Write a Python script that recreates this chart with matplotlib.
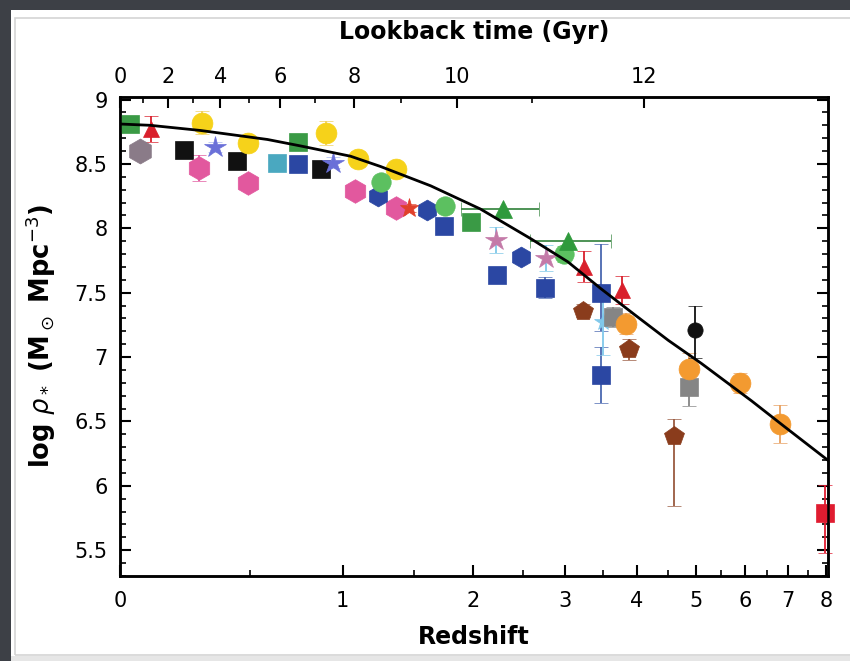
import numpy as np
import matplotlib.pyplot as plt
from matplotlib.patches import Rectangle
from matplotlib.ticker import FixedLocator, MultipleLocator

plt.rcParams['font.family'] = ['Liberation Sans Narrow', 'DejaVu Sans']
plt.rcParams['mathtext.fontset'] = 'dejavusans'

# Stellar mass density measurements: redshift, log rho_*, symmetric y errors
green_sq_z = [0.03, 0.74, 1.98]
green_sq_v = [8.81, 8.67, 8.05]
green_sq_e = [0.04, 0.04, 0.05]

red_tri_z = [0.10, 3.24, 3.77]
red_tri_v = [8.77, 7.70, 7.52]
red_tri_e = [0.10, 0.12, 0.11]

grey_hex_z = [0.065]
grey_hex_v = [8.60]
grey_hex_e = [0.04]

black_sq_z = [0.22, 0.44, 0.87]
black_sq_v = [8.61, 8.52, 8.46]
black_sq_e = [0.03, 0.03, 0.03]

yellow_z = [0.29, 0.49, 0.90, 1.10, 1.36]
yellow_v = [8.82, 8.66, 8.74, 8.54, 8.46]
yellow_e = [0.09, 0.06, 0.09, 0.06, 0.05]

pink_hex_z = [0.28, 0.49, 1.08, 1.36]
pink_hex_v = [8.47, 8.35, 8.29, 8.16]
pink_hex_e = [0.10, 0.04, 0.04, 0.04]

violet_star_z = [0.345, 0.94]
violet_star_v = [8.63, 8.51]
violet_star_e = [0.04, 0.04]

teal_sq_z = [0.63]
teal_sq_v = [8.51]
teal_sq_e = [0.03]

blue_sq_z = [0.74, 1.74, 2.23, 2.75, 3.47, 3.47]
blue_sq_v = [8.50, 8.02, 7.64, 7.54, 7.50, 6.86]
blue_sq_lo = [0.03, 0.04, 0.06, 0.08, 0.30, 0.22]
blue_sq_hi = [0.03, 0.04, 0.06, 0.08, 0.38, 0.22]

blue_hex_z = [1.23, 1.60, 2.48]
blue_hex_v = [8.25, 8.14, 7.78]
blue_hex_e = [0.03, 0.03, 0.04]

lgreen_z = [1.25, 1.75, 2.98]
lgreen_v = [8.36, 8.17, 7.80]
lgreen_e = [0.04, 0.05, 0.06]

green_tri_z = [2.29, 3.03]
green_tri_v = [8.15, 7.90]
green_tri_xlo = [0.40, 0.45]
green_tri_xhi = [0.39, 0.58]

mauve_star_z = [2.22, 2.76]
mauve_star_v = [7.91, 7.77]
mauve_star_e = [0.10, 0.10]

red_star_z = [1.46]
red_star_v = [8.16]
red_star_e = [0.03]

cyan_z = [3.50]
cyan_v = [7.27]
cyan_e = [0.25]

brown_z = [3.23, 3.88, 4.60]
brown_v = [7.36, 7.06, 6.39]
brown_lo = [0.05, 0.08, 0.55]
brown_hi = [0.05, 0.08, 0.13]

grey_sq_z = [3.64, 4.88]
grey_sq_v = [7.31, 6.77]
grey_sq_e = [0.08, 0.15]

orange_z = [3.83, 4.88, 5.88, 6.79]
orange_v = [7.26, 6.91, 6.80, 6.48]
orange_e = [0.08, 0.12, 0.08, 0.15]

black_c_z = [4.98]
black_c_v = [7.21]
black_c_lo = [0.22]
black_c_hi = [0.19]

red_sq_z = [7.97]
red_sq_v = [5.79]
red_sq_lo = [0.31]
red_sq_hi = [0.22]

# Model fit to the mass density
curve_z = [0.0, 0.098, 0.284, 0.582, 0.753, 1.049, 1.25, 1.63, 2.07, 2.59,
           3.03, 3.47, 3.96, 4.51, 5.11, 6.14, 6.91, 8.05]
curve_v = [8.81, 8.80, 8.76, 8.69, 8.64, 8.56, 8.48, 8.33, 8.15, 7.92,
           7.74, 7.53, 7.33, 7.13, 6.95, 6.66, 6.46, 6.20]


def lg(z):
    return np.log10(1 + np.asarray(z, dtype=float))


fig = plt.figure(figsize=(8.5, 6.61), dpi=100)
fig.patch.set_facecolor('#3d4046')
fig.patches.append(Rectangle((11 / 850, 0), 1, 1 - 10 / 661, transform=fig.transFigure,
                             facecolor='white', edgecolor='none', zorder=-3))
fig.patches.append(Rectangle((15 / 850, 6 / 661), 1, 1 - 24 / 661, transform=fig.transFigure,
                             facecolor='none', edgecolor='#d4d4d4', lw=1.2, zorder=-2))
fig.patches.append(Rectangle((11 / 850, 0), 1, 5 / 661, transform=fig.transFigure,
                             facecolor='#e6e6e6', edgecolor='none', zorder=-2))

ax = fig.add_axes([0.1412, 0.1286, 0.833, 0.7247])
xmax = lg(8.06)
ax.set_xlim(0, xmax)
ax.set_ylim(5.3, 9.02)


def pts(z, v, marker, color, ms, yerr=None, xerr=None, ecolor=None, clip=True):
    x = lg(z)
    xe = None
    if xerr is not None:
        lo, hi = xerr
        xe = [x - lg(np.asarray(z) - np.asarray(lo)), lg(np.asarray(z) + np.asarray(hi)) - x]
    cont = ax.errorbar(x, v, yerr=yerr, xerr=xe, fmt=marker, color=color, ms=ms,
                       mec=color, mew=0.5, ecolor=ecolor or color, elinewidth=1.3,
                       capsize=5, capthick=1.3, zorder=3)
    if not clip:
        for art in cont.get_children():
            art.set_clip_on(False)


pts(grey_hex_z, grey_hex_v, 'h', '#8a7b88', 18, grey_hex_e)
pts(green_sq_z, green_sq_v, 's', '#3a9a45', 13, green_sq_e)
pts(red_tri_z, red_tri_v, '^', '#d9202c', 11, red_tri_e)
pts(black_sq_z, black_sq_v, 's', '#111111', 13, black_sq_e)
pts(pink_hex_z, pink_hex_v, 'h', '#e2589e', 17, pink_hex_e)
pts(yellow_z, yellow_v, 'o', '#f6d21a', 15, yellow_e, ecolor='#f0d060')
pts(violet_star_z, violet_star_v, '*', '#6a70d8', 16, violet_star_e, ecolor='#a8b8f0')
pts(teal_sq_z, teal_sq_v, 's', '#4aa8c0', 13, teal_sq_e)
pts(blue_sq_z, blue_sq_v, 's', '#2b47a3', 13, [blue_sq_lo, blue_sq_hi], ecolor='#4a68b0')
pts(blue_hex_z, blue_hex_v, 'h', '#2b47a3', 15, blue_hex_e)
pts(lgreen_z, lgreen_v, 'o', '#5cc060', 14, lgreen_e)
pts(green_tri_z, green_tri_v, '^', '#2f9a3c', 13, None,
    xerr=(green_tri_xlo, green_tri_xhi), ecolor='#3f8a48')
pts(mauve_star_z, mauve_star_v, '*', '#c47aa8', 16, mauve_star_e, ecolor='#7ec8e8')
pts(red_star_z, red_star_v, '*', '#e0402a', 14, red_star_e)
pts(cyan_z, cyan_v, '*', '#80c8ea', 13, cyan_e)
pts(brown_z, brown_v, 'p', '#8a3c1c', 15, [brown_lo, brown_hi], ecolor='#9a5a40')
pts(grey_sq_z, grey_sq_v, 's', '#858585', 13, grey_sq_e)
pts(orange_z, orange_v, 'o', '#f39a30', 15, orange_e, ecolor='#e8a060')
pts(black_c_z, black_c_v, 'o', '#111111', 11, [black_c_lo, black_c_hi])
pts(red_sq_z, red_sq_v, 's', '#e01c30', 13, [red_sq_lo, red_sq_hi], clip=False)

ax.plot(lg(curve_z), curve_v, color='black', lw=2.0, zorder=5)

# Bottom axis: redshift on a log(1+z) scale
zmaj = np.arange(0, 9)
zmin = np.arange(0.5, 8, 1.0)
ax.xaxis.set_major_locator(FixedLocator(lg(zmaj)))
ax.xaxis.set_minor_locator(FixedLocator(lg(zmin)))
ax.set_xticklabels([str(v) for v in zmaj])
ax.yaxis.set_minor_locator(MultipleLocator(0.1))
ax.set_yticks([5.5, 6, 6.5, 7, 7.5, 8, 8.5, 9])
ax.set_yticklabels(['5.5', '6', '6.5', '7', '7.5', '8', '8.5', '9'])

ax.tick_params(axis='both', which='major', direction='in', length=8, width=1.5,
               labelsize=15, right=True, pad=9)
ax.tick_params(axis='both', which='minor', direction='in', length=4, width=1.2, right=True)
ax.tick_params(axis='x', which='both', top=False, pad=11)
for s in ax.spines.values():
    s.set_linewidth(1.8)

ax.set_xlabel('Redshift', fontsize=17, fontweight='bold', labelpad=10)
ax.set_ylabel(r'log $\rho_*$ (M$_\odot$ Mpc$^{-3}$)', fontsize=18.5, fontweight='bold',
              labelpad=12)

# Top axis: lookback time for a flat LCDM cosmology
H0, Om, OL = 70.0, 0.3, 0.7
zg = np.linspace(0, 12, 24001)
f = 1.0 / ((1 + zg) * np.sqrt(Om * (1 + zg) ** 3 + OL))
tl = 977.8 / H0 * np.concatenate([[0], np.cumsum(0.5 * (f[1:] + f[:-1]) * np.diff(zg))])
t_max = np.interp(8.06, zg, tl)
t_maj = np.arange(0, 13, 2)
t_min = np.array([t for t in np.arange(1, 14, 2) if t < t_max])

ax2 = ax.twiny()
ax2.set_xlim(0, xmax)
ax2.xaxis.set_major_locator(FixedLocator(lg(np.interp(t_maj, tl, zg))))
ax2.xaxis.set_minor_locator(FixedLocator(lg(np.interp(t_min, tl, zg))))
ax2.set_xticklabels([str(t) for t in t_maj])
ax2.tick_params(axis='x', which='major', direction='in', length=8, width=1.5,
                labelsize=15, pad=7)
ax2.tick_params(axis='x', which='minor', direction='in', length=4, width=1.2)
ax2.set_xlabel('Lookback time (Gyr)', fontsize=17, fontweight='bold', labelpad=20)
for s in ax2.spines.values():
    s.set_linewidth(1.8)

fig.savefig('out.png', dpi=100, facecolor=fig.get_facecolor())
